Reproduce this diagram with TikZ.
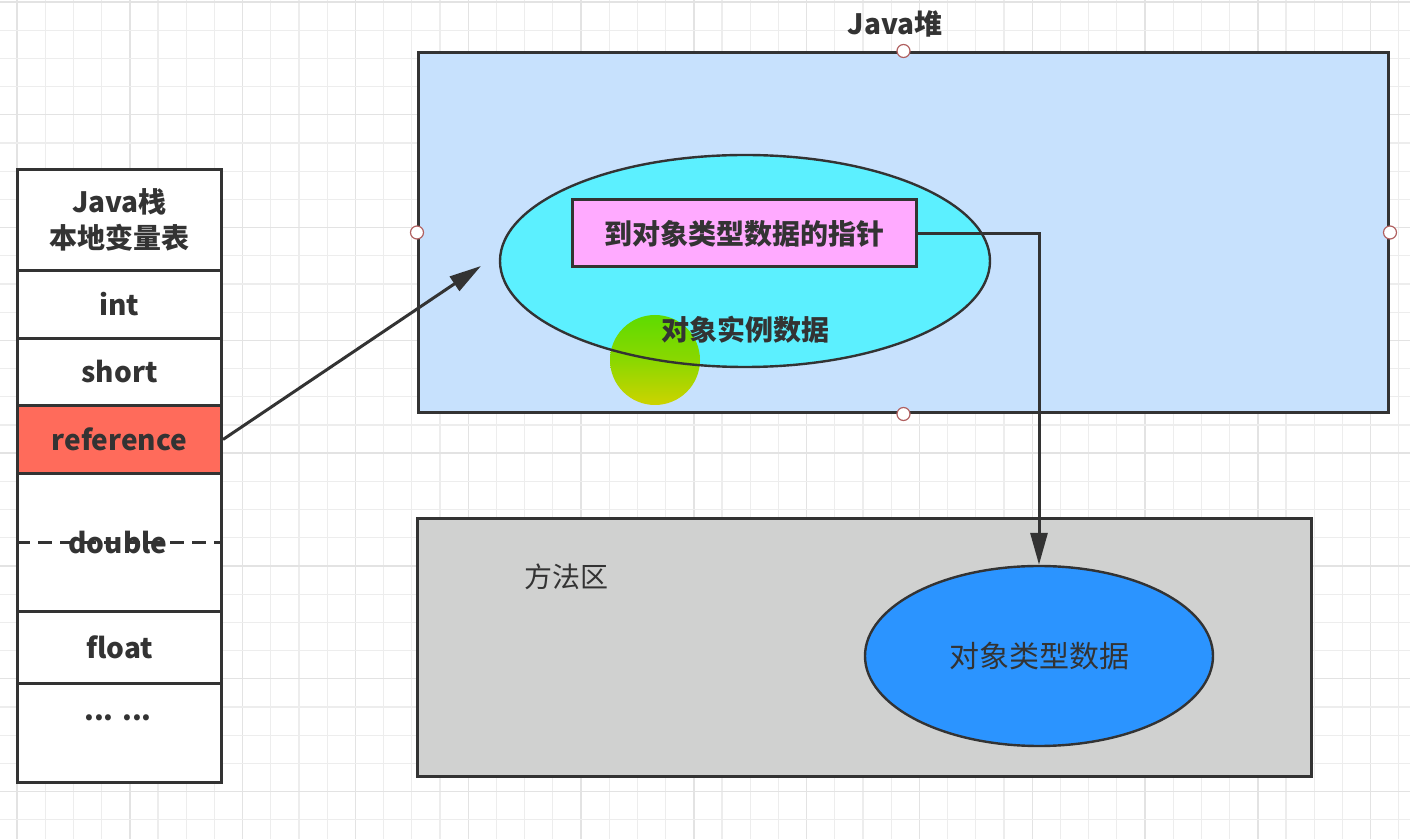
\documentclass[tikz,border=0pt]{standalone}
\usepackage{fontspec}
\setmainfont{Noto Sans CJK SC}
\usetikzlibrary{arrows.meta,shapes.geometric}
\definecolor{linec}{HTML}{333333}
\definecolor{txtc}{HTML}{333333}
\definecolor{gridc}{HTML}{EDEDED}
\definecolor{gridm}{HTML}{E3E3E3}
\definecolor{heapc}{HTML}{C7E1FD}
\definecolor{objc}{HTML}{5CF0FF}
\definecolor{ptrc}{HTML}{FFAAFF}
\definecolor{refc}{HTML}{FF6B5B}
\definecolor{methc}{HTML}{D0D1D0}
\definecolor{clsc}{HTML}{2B94FF}
\definecolor{handlec}{HTML}{B06060}
\definecolor{spotg}{HTML}{5EDB00}
\definecolor{spoty}{HTML}{CDD300}
\begin{document}
\begin{tikzpicture}[x=0.5pt,y=-0.5pt,
  txt/.style={font=\fontsize{14pt}{18pt}\selectfont\bfseries, text=txtc},
  txtn/.style={font=\fontsize{14pt}{18pt}\selectfont, text=txtc},
  cell/.style={draw=linec, line width=1.5pt, fill=white, minimum width=102pt, inner sep=0pt, anchor=north west, txt, align=center},
  handle/.style={circle, draw=handlec, fill=white, line width=0.6pt, minimum size=6.5pt, inner sep=0pt},
  arr/.style={draw=linec, line width=1.5pt, -{Triangle[length=16pt,width=8.5pt]}}]
\useasboundingbox (0,0) rectangle (1410,839);
\fill[white] (0,0) rectangle (1410,839);
% grid
\foreach \k in {0,...,49} {
  \pgfmathsetmacro{\xx}{17+28.2*\k}
  \pgfmathtruncatemacro{\mm}{mod(\k,4)}
  \ifnum\mm=0 \draw[gridm, line width=0.7pt] (\xx,0) -- (\xx,839);
  \else \draw[gridc, line width=0.6pt] (\xx,0) -- (\xx,839); \fi
}
\foreach \k in {0,...,29} {
  \pgfmathsetmacro{\yy}{2+28.2*\k}
  \pgfmathtruncatemacro{\mm}{mod(\k,4)}
  \ifnum\mm=0 \draw[gridm, line width=0.7pt] (0,\yy) -- (1410,\yy);
  \else \draw[gridc, line width=0.6pt] (0,\yy) -- (1410,\yy); \fi
}
% Java stack
\node[cell, minimum height=50.5pt] (hdr) at (16,168) {Java栈\\本地变量表};
\node[cell, minimum height=34pt] (int) at (16,269) {int};
\node[cell, minimum height=33.5pt] (short) at (16,337) {short};
\node[cell, minimum height=34pt, fill=refc] (ref) at (16,404) {reference};
\node[cell, minimum height=69pt] (dbl) at (16,472) {};
\node[cell, minimum height=36pt] (flt) at (16,610) {float};
\node[cell, minimum height=49.5pt] (etc) at (16,682) {};
\draw[linec, line width=1.5pt, dash pattern=on 7pt off 4pt] (dbl.west) -- (dbl.east);
\node[txt] (dbltxt) at (118,543) {double};
\node[txt] (etctxt) at (118,718) {... ...};
% Java heap
\node[draw=linec, line width=1.5pt, fill=heapc, minimum width=485pt, minimum height=180pt, inner sep=0pt, anchor=north west] (heap) at (417,51) {};
\node[txt, anchor=south] (heaptitle) at (895,44) {Java堆};
\node[ellipse, fill=objc, minimum width=245pt, minimum height=106pt, inner sep=0pt] (obj) at (745,261) {};
\shade[top color=spotg, bottom color=spoty, middle color=spotg!60!spoty] (655,360) circle (22.5pt);
\node[ellipse, draw=linec, line width=1.2pt, minimum width=245pt, minimum height=106pt, inner sep=0pt] (objline) at (745,261) {};
\node[draw=linec, line width=1.5pt, fill=ptrc, minimum width=172pt, minimum height=33.5pt, inner sep=0pt, txt] (ptr) at (744,233.5) {到对象类型数据的指针};
\node[txt] (inst) at (745,330) {对象实例数据};
\foreach \a in {north,south,east,west} \node[handle] (h\a) at (heap.\a) {};
% Method area
\node[draw=linec, line width=1.5pt, fill=methc, minimum width=447pt, minimum height=129pt, inner sep=0pt, anchor=north west] (meth) at (416,517) {};
\node[txtn] (methtitle) at (566,577) {方法区};
\node[ellipse, draw=linec, line width=1.2pt, fill=clsc, minimum width=174pt, minimum height=90pt, inner sep=0pt, font=\fontsize{15pt}{18pt}\selectfont, text=txtc] (cls) at (1039,656) {对象类型数据};
% connectors
\coordinate (objin) at (481,266);
\draw[arr] (ref.east) -- (objin);
\draw[arr] (ptr.east) -| (cls.north);
\end{tikzpicture}
\end{document}
